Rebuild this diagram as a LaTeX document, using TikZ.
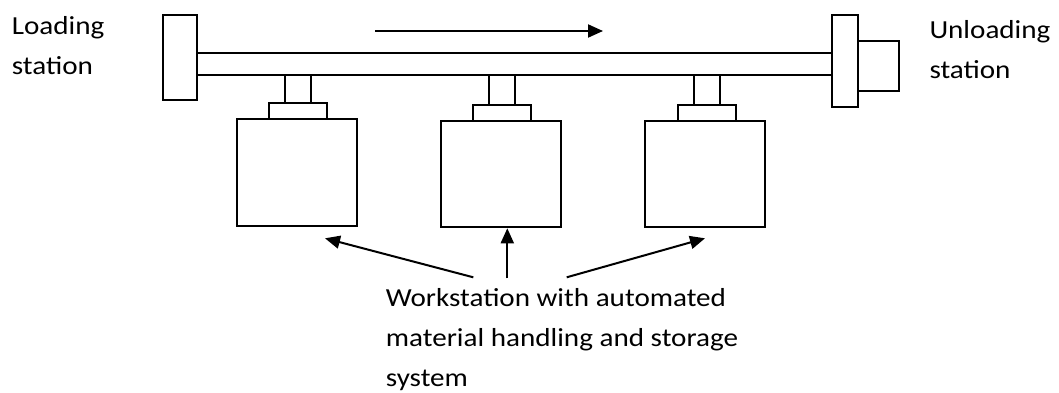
\documentclass[tikz,border=0pt]{standalone}
\usepackage{fontspec}
\setmainfont{Carlito}[FakeStretch=1.12]
\usetikzlibrary{arrows.meta}
\begin{document}
\begin{tikzpicture}[x=1pt,y=-1pt,
  part/.style={draw,line width=2pt,inner sep=0pt,fill=white},
  lbl/.style={inner sep=0pt,anchor=base west,align=left,font=\fontsize{26}{40}\selectfont},
  arr/.style={line width=2pt,-{Triangle[length=15pt,width=13pt]}}]
\useasboundingbox (0,0) rectangle (1059,393);
% rail and end stations
\node[part,minimum width=635pt,minimum height=22.6pt] (rail) at (514.5,64) {};
\node[part,minimum width=34pt,minimum height=85.5pt] (load) at (180,57.7) {};
\node[part,minimum width=26pt,minimum height=92pt] (unload) at (845,61) {};
\node[part,minimum width=41pt,minimum height=49.4pt] (unbox) at (878.5,66) {};
% workstation 1
\node[part,minimum width=26pt,minimum height=28.3pt] (stemA) at (298,89.2) {};
\node[part,minimum width=58pt,minimum height=15.4pt] (plateA) at (298,111) {};
\node[part,minimum width=120pt,minimum height=107pt] (wsA) at (297.3,172.2) {};
% workstation 2
\node[part,minimum width=26pt,minimum height=30pt] (stemB) at (502.3,90) {};
\node[part,minimum width=58pt,minimum height=16.3pt] (plateB) at (502.3,113.2) {};
\node[part,minimum width=120pt,minimum height=106pt] (wsB) at (501.2,174.3) {};
% workstation 3
\node[part,minimum width=26pt,minimum height=30pt] (stemC) at (706.5,90) {};
\node[part,minimum width=58pt,minimum height=16.3pt] (plateC) at (706.5,113.2) {};
\node[part,minimum width=120pt,minimum height=106pt] (wsC) at (705,174.3) {};
% labels (anchored at the baseline of their last line)
\node[lbl] (tload) at (11.7,75) {Loading\\station};
\node[lbl] (tunload) at (929.3,79) {Unloading\\station};
\node[lbl] (tws) at (385.7,386) {Workstation with automated\\material handling and storage\\system};
% arrows
\coordinate (dirS) at (375,31);
\coordinate (dirE) at (603,31);
\draw[arr] (dirS) -- (dirE);
\coordinate (tA) at (473.3,277.3);
\coordinate (hA) at (325,238.3);
\coordinate (tB) at (507.3,278.3);
\coordinate (hB) at (507.3,228.3);
\coordinate (tC) at (566.7,277.3);
\coordinate (hC) at (705,238.3);
\draw[arr] (tA) -- (hA);
\draw[arr] (tB) -- (hB);
\draw[arr] (tC) -- (hC);
\end{tikzpicture}
\end{document}
